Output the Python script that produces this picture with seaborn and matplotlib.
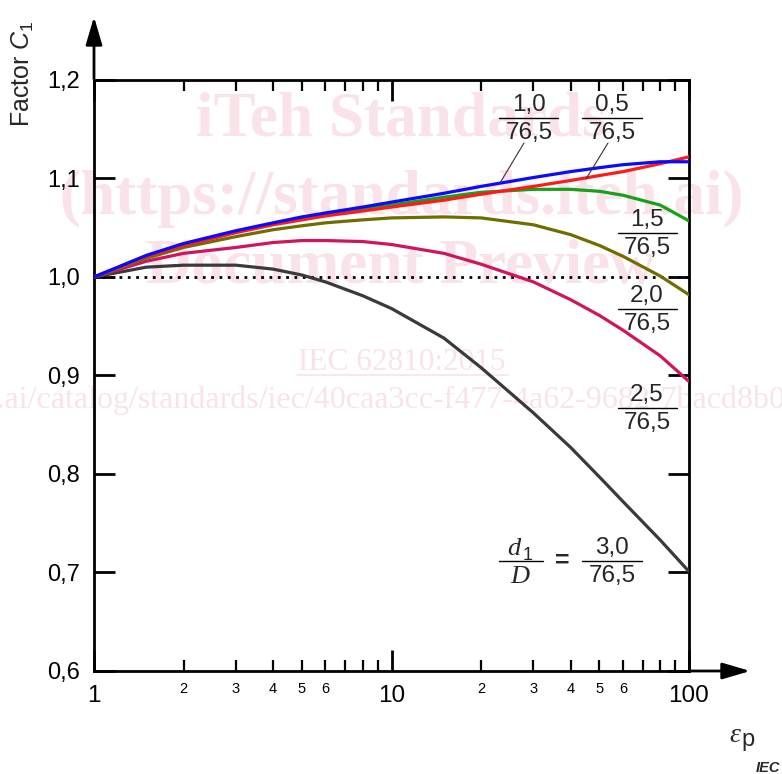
import numpy as np
import pandas as pd
import matplotlib
matplotlib.use('Agg')
import matplotlib.pyplot as plt
import seaborn as sns
from matplotlib.lines import Line2D
from matplotlib.patches import FancyArrowPatch
from matplotlib.ticker import FixedLocator, FuncFormatter

sns.set_style('white')
plt.rcParams['font.family'] = ['Liberation Sans', 'DejaVu Sans']
plt.rcParams['mathtext.fontset'] = 'custom'
plt.rcParams['mathtext.rm'] = 'Liberation Sans'
plt.rcParams['mathtext.it'] = 'Liberation Sans:italic'

# values (eps_p on log axis)
eps_p = [1, 1.5, 2, 3, 4, 5, 6, 8, 10, 15, 20, 30, 40, 50, 60, 80, 100]
c1_05 = [1.0, 1.021, 1.032, 1.045, 1.053, 1.058, 1.062, 1.067, 1.071, 1.078, 1.084, 1.092, 1.098, 1.103, 1.107, 1.115, 1.122]
c1_10 = [1.0, 1.022, 1.034, 1.047, 1.055, 1.061, 1.065, 1.071, 1.076, 1.085, 1.092, 1.101, 1.107, 1.111, 1.114, 1.117, 1.117]
c1_15 = [1.0, 1.021, 1.033, 1.046, 1.054, 1.060, 1.064, 1.069, 1.073, 1.081, 1.086, 1.089, 1.089, 1.087, 1.083, 1.073, 1.057]
c1_20 = [1.0, 1.019, 1.030, 1.041, 1.048, 1.052, 1.055, 1.058, 1.060, 1.061, 1.060, 1.053, 1.043, 1.032, 1.021, 1.001, 0.982]
c1_25 = [1.0, 1.016, 1.024, 1.030, 1.035, 1.037, 1.037, 1.036, 1.033, 1.024, 1.013, 0.995, 0.977, 0.961, 0.946, 0.920, 0.894]
c1_30 = [1.0, 1.010, 1.012, 1.012, 1.008, 1.002, 0.995, 0.981, 0.968, 0.938, 0.908, 0.862, 0.827, 0.797, 0.772, 0.733, 0.701]

ratios = ['3,0', '2,5', '2,0', '1,5', '0,5', '1,0']
series = [c1_30, c1_25, c1_20, c1_15, c1_05, c1_10]
colors = ['#3a3a3a', '#d0145e', '#6e6e00', '#18a018', '#ff1a1a', '#0a0aff']

df = pd.concat([pd.DataFrame({'eps': eps_p, 'C1': s, 'ratio': r}) for r, s in zip(ratios, series)])

W, H = 782, 774
def P(px, py):
    return (px / W, 1 - py / H)

fig = plt.figure(figsize=(7.82, 7.74), dpi=100)
ax = fig.add_axes([94 / W, 1 - 671 / H, (689 - 94) / W, (671 - 80) / H])

# watermark
wm = '#fae2e9'
for txt, y in [('iTeh Standards', 120), ('(https://standards.iteh.ai)', 199), ('Document Preview', 268)]:
    ax.text(*P(401, y), txt, transform=fig.transFigure, ha='center', va='center',
            family='Liberation Serif', weight='bold', fontsize=45.5, color=wm, zorder=0)
ax.text(*P(402, 362), 'IEC 62810:2015', transform=fig.transFigure, ha='center', va='center',
        family='Liberation Serif', fontsize=22.5, color=wm, zorder=0)
ax.plot([297 / W, 508 / W], [1 - 375 / H] * 2, transform=fig.transFigure, color=wm, lw=1.2, zorder=0, clip_on=False)
ax.text(*P(786, 400), 'https://standards.iteh.ai/catalog/standards/iec/40caa3cc-f477-4a62-9682-7bacd8b0',
        transform=fig.transFigure, ha='right', va='center', family='Liberation Serif', fontsize=23,
        color=wm, zorder=0, clip_on=False)

ax.axhline(1.0, color='black', lw=2, ls=(0, (1, 2)), zorder=1)
sns.lineplot(data=df, x='eps', y='C1', hue='ratio', hue_order=ratios, palette=colors,
             lw=2.3, legend=False, ax=ax, zorder=3)

ax.set_xscale('log')
ax.set_xlim(1, 100)
ax.set_ylim(0.6, 1.2)
ax.set_xlabel('')
ax.set_ylabel('')
for s in ax.spines.values():
    s.set_linewidth(2)
    s.set_color('black')

ax.set_yticks([0.6, 0.7, 0.8, 0.9, 1.0, 1.1, 1.2])
ax.yaxis.set_major_formatter(FuncFormatter(lambda v, _: f'{v:.1f}'.replace('.', ',')))
ax.xaxis.set_major_locator(FixedLocator([1, 10, 100]))
ax.xaxis.set_major_formatter(FuncFormatter(lambda v, _: f'{v:g}'))
minors = [m * d for d in (1, 10) for m in range(2, 10)]
ax.xaxis.set_minor_locator(FixedLocator(minors))

def minor_label(v, _):
    lead = int(round(v / 10 ** np.floor(np.log10(v) + 1e-9)))
    return str(lead) if lead <= 6 else ''
ax.xaxis.set_minor_formatter(FuncFormatter(minor_label))

ax.tick_params(axis='y', which='major', direction='in', length=15, width=2, left=True, right=True,
               labelsize=17, pad=10, colors='black')
ax.tick_params(axis='x', which='major', direction='in', length=15, width=2, top=True, bottom=True,
               labelsize=17.5, pad=10, colors='black')
ax.tick_params(axis='x', which='minor', direction='in', length=8, width=1.6, top=True, bottom=True,
               labelsize=10.5, pad=8, colors='black')

# axis arrows
for a, b in [((94, 82), (94, 14)), ((687, 671), (753, 671))]:
    fig.add_artist(FancyArrowPatch(P(*a), P(*b), transform=fig.transFigure,
                                   arrowstyle='-|>,head_length=0.85,head_width=0.25',
                                   mutation_scale=20, lw=2, color='black'))

fig.text(*P(23, 74), 'Factor $C_1$', rotation=90, ha='center', va='center', fontsize=18)
fig.text(*P(735, 736), 'ε', family='Liberation Serif', style='italic', fontsize=20, ha='center', va='center')
fig.text(*P(748, 740), 'p', fontsize=17, ha='center', va='center')
fig.text(*P(780, 768), 'IEC', fontsize=10.5, style='italic', weight='bold', ha='right', va='center')

# fraction labels
def frac(cx, ly, num, den, x0, x1):
    fig.text(*P(cx, ly - 13), num, fontsize=17.5, ha='center', va='center')
    fig.text(*P(cx, ly + 15), den, fontsize=17.5, ha='center', va='center')
    fig.add_artist(Line2D([x0 / W, x1 / W], [1 - ly / H] * 2, transform=fig.transFigure, color='black', lw=1))

frac(529, 118, '1,0', '76,5', 499, 558)
frac(612, 118, '0,5', '76,5', 582, 642)
frac(647, 233, '1,5', '76,5', 618, 677)
frac(647, 309, '2,0', '76,5', 618, 677)
frac(647, 408, '2,5', '76,5', 618, 677)
frac(612, 561, '3,0', '76,5', 582, 642)

fig.text(*P(514, 549), 'd', family='Liberation Serif', style='italic', fontsize=19, ha='center', va='center')
fig.text(*P(528, 555), '1', fontsize=13, ha='center', va='center')
fig.text(*P(520, 577), 'D', family='Liberation Serif', style='italic', fontsize=19, ha='center', va='center')
fig.add_artist(Line2D([499 / W, 543 / W], [1 - 561 / H] * 2, transform=fig.transFigure, color='black', lw=1))
fig.text(*P(562, 561), '=', fontsize=18, weight='bold', ha='center', va='center')

# leader lines
for a, b in [((524, 143), (500, 183)), ((608, 143), (586, 179))]:
    fig.add_artist(Line2D([a[0] / W, b[0] / W], [1 - a[1] / H, 1 - b[1] / H],
                          transform=fig.transFigure, color='#333333', lw=0.8))

fig.savefig('out.png', dpi=100)
